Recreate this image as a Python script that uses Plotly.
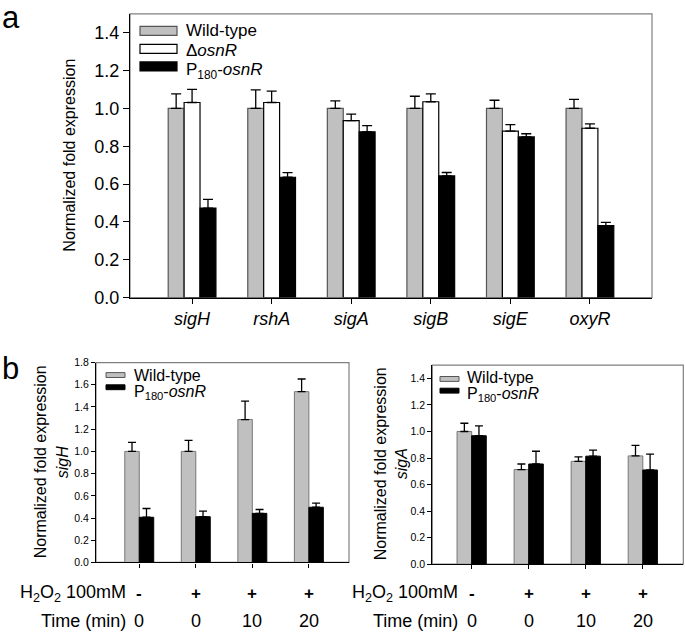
import plotly.graph_objects as go

# ---------------- data ----------------
genes = ["sigH", "rshA", "sigA", "sigB", "sigE", "oxyR"]
wt_a = [1.0, 1.0, 1.0, 1.0, 1.0, 1.0]
wt_a_err = [0.077, 0.098, 0.040, 0.064, 0.043, 0.048]
del_a = [1.031, 1.031, 0.935, 1.035, 0.880, 0.895]
del_a_err = [0.069, 0.060, 0.035, 0.042, 0.034, 0.023]
p180_a = [0.473, 0.636, 0.876, 0.643, 0.849, 0.380]
p180_a_err = [0.046, 0.024, 0.033, 0.018, 0.017, 0.017]

h2o2 = ["-", "+", "+", "+"]
times = ["0", "0", "10", "20"]
wt_sigH = [1.0, 1.0, 1.287, 1.538]
wt_sigH_err = [0.082, 0.100, 0.166, 0.114]
p180_sigH = [0.407, 0.412, 0.442, 0.497]
p180_sigH_err = [0.079, 0.050, 0.035, 0.038]
wt_sigA = [1.0, 0.713, 0.775, 0.816]
wt_sigA_err = [0.062, 0.042, 0.034, 0.079]
p180_sigA = [0.968, 0.755, 0.814, 0.710]
p180_sigA_err = [0.074, 0.096, 0.046, 0.119]

yticks_a = [0.0, 0.2, 0.4, 0.6, 0.8, 1.0, 1.2, 1.4]
yticks_sigH = [0.0, 0.2, 0.4, 0.6, 0.8, 1.0, 1.2, 1.4, 1.6, 1.8]
yticks_sigA = [0.0, 0.2, 0.4, 0.6, 0.8, 1.0, 1.2, 1.4]

names_a = ["Wild-type", "Δ<i>osnR</i>", "P<sub>180</sub>-<i>osnR</i>"]
names_b = ["Wild-type", "P<sub>180</sub>-<i>osnR</i>"]

FONT = "Liberation Sans, Arial, sans-serif"
GRAY = "#c0c0c0"

W, H = 685, 641


def px(x):
    return x / W


def py(y):
    return 1 - y / H


def bar(x, y, err, name, fill, line, xa, ya, offset, width, lw=1.2, cap=5):
    return go.Bar(
        x=x, y=y, name=name, showlegend=False,
        marker=dict(color=fill, line=dict(color=line, width=lw)),
        error_y=dict(type="data", symmetric=False, array=err,
                     arrayminus=[0] * len(err), color="black",
                     thickness=1.3, width=cap),
        offset=offset, width=width, xaxis=xa, yaxis=ya,
    )


xb = list(range(len(times)))

fig = go.Figure()
# panel a
fig.add_trace(bar(genes, wt_a, wt_a_err, names_a[0], GRAY, "#555555", "x", "y", -0.3, 0.2))
fig.add_trace(bar(genes, del_a, del_a_err, names_a[1], "white", "black", "x", "y", -0.1, 0.2))
fig.add_trace(bar(genes, p180_a, p180_a_err, names_a[2], "black", "black", "x", "y", 0.1, 0.2))
# panel b left
fig.add_trace(bar(xb, wt_sigH, wt_sigH_err, names_b[0], GRAY, "#777777", "x2", "y2", -0.256, 0.256, 1.0, 4))
fig.add_trace(bar(xb, p180_sigH, p180_sigH_err, names_b[1], "black", "black", "x2", "y2", 0.0, 0.256, 1.0, 4))
# panel b right
fig.add_trace(bar(xb, wt_sigA, wt_sigA_err, names_b[0], GRAY, "#777777", "x3", "y3", -0.256, 0.256, 1.0, 4))
fig.add_trace(bar(xb, p180_sigA, p180_sigA_err, names_b[1], "black", "black", "x3", "y3", 0.0, 0.256, 1.0, 4))

common_axis = dict(showline=True, linecolor="black", linewidth=1.2, ticks="outside",
                   tickcolor="black", showgrid=False, zeroline=False)

fig.update_layout(
    width=W, height=H,
    margin=dict(l=0, r=0, t=0, b=0),
    paper_bgcolor="white", plot_bgcolor="white",
    font=dict(family=FONT, color="black", size=16),
    barmode="overlay",
    showlegend=False,
    xaxis=dict(domain=[px(130), px(652)], anchor="y", range=[-0.78, 5.78],
               tickvals=genes, ticktext=[f"<i>{g}</i>" for g in genes],
               ticklen=5, tickfont=dict(size=18), **common_axis),
    yaxis=dict(domain=[py(299), py(8)], anchor="x", range=[0, 1.5],
               tickvals=yticks_a, ticktext=[f"{v:.1f}" for v in yticks_a],
               ticklen=6, tickfont=dict(size=18), **common_axis),
    xaxis2=dict(domain=[px(96), px(349)], anchor="y2", range=[-0.765, 3.71],
                tickvals=xb, showticklabels=False, ticklen=4, **common_axis),
    yaxis2=dict(domain=[py(570.7), py(365.7)], anchor="x2", range=[0, 1.8],
                tickvals=yticks_sigH, ticktext=[f"{v:.1f}" for v in yticks_sigH],
                ticklen=4, tickfont=dict(size=10.5), **common_axis),
    xaxis3=dict(domain=[px(432.3), px(683.3)], anchor="y3", range=[-0.69, 3.71],
                tickvals=xb, showticklabels=False, ticklen=4, **common_axis),
    yaxis3=dict(domain=[py(572.5), py(368.3)], anchor="x3", range=[0, 1.5],
                tickvals=yticks_sigA, ticktext=[f"{v:.1f}" for v in yticks_sigA],
                ticklen=4, tickfont=dict(size=10.5), **common_axis),
)

shapes = []
# plot frames (grey top/right edges)
for xa in ["x", "x2", "x3"]:
    ya = xa.replace("x", "y")
    shapes.append(dict(type="rect", xref=f"{xa} domain", yref=f"{ya} domain",
                       x0=0, x1=1, y0=0, y1=1, line=dict(color="#808080", width=1.2),
                       layer="below"))

ann = []


def text(t, x, y, size=16.5, xanchor="center", yanchor="middle", angle=0, xref="paper"):
    ann.append(dict(text=t, x=x, y=y, xref=xref, yref="paper", xanchor=xanchor,
                    yanchor=yanchor, textangle=angle, showarrow=False,
                    font=dict(size=size, family=FONT, color="black")))


# legend panel a (swatch boxes + labels)
leg_a = [(names_a[0], GRAY, "#555555", 25.5, 25),
         (names_a[1], "white", "black", 44, 46),
         (names_a[2], "black", "black", 62, 67)]
for name, fill, line, sy, ty in leg_a:
    shapes.append(dict(type="rect", xref="paper", yref="paper",
                       x0=px(140), x1=px(177), y0=py(sy - 4.6), y1=py(sy + 4.6),
                       fillcolor=fill, line=dict(color=line, width=1.2)))
    text(name, px(184), py(ty), size=17, xanchor="left")

# legends panel b
for (x0, x1, tx, rows) in [(106, 125, 132, [(378.5, 378.5), (391, 396.5)]),
                           (440, 459, 465, [(382.5, 381.5), (394.5, 398.5)])]:
    for (name, fill, line), (sy, ty) in zip([(names_b[0], GRAY, "#555555"),
                                             (names_b[1], "black", "black")], rows):
        shapes.append(dict(type="rect", xref="paper", yref="paper",
                           x0=px(x0), x1=px(x1), y0=py(sy - 2.5), y1=py(sy + 2.5),
                           fillcolor=fill, line=dict(color=line, width=1.0)))
        text(name, px(tx), py(ty), size=16, xanchor="left")

text("a", px(0), py(-8), size=31, xanchor="left", yanchor="top")
text("b", px(0), py(372), size=31, xanchor="left", yanchor="middle")

text("Normalized fold expression", px(70), py(153.5), size=16, angle=-90)
text("Normalized fold expression", px(40), py(468), size=16, angle=-90)
text("<i>sigH</i>", px(62), py(468), size=16, angle=-90)
text("Normalized fold expression", px(380), py(470), size=16, angle=-90)
text("<i>sigA</i>", px(401), py(470), size=16, angle=-90)

for right_edge in (128, 460):
    text("H<sub>2</sub>O<sub>2</sub> 100mM", px(right_edge), py(603), size=18, xanchor="right")
    text("Time (min)", px(right_edge), py(631), size=18, xanchor="right")

for xa in ("x2", "x3"):
    for i in xb:
        text(f"<b>{h2o2[i]}</b>", i, py(603), size=17, xref=xa)
        text(times[i], i, py(631), size=18, xref=xa)

fig.update_layout(annotations=ann, shapes=shapes)

fig.write_html("out.html",
               config={"displayModeBar": False},
               post_script="document.body.style.margin='0px';document.body.style.overflow='hidden';")
